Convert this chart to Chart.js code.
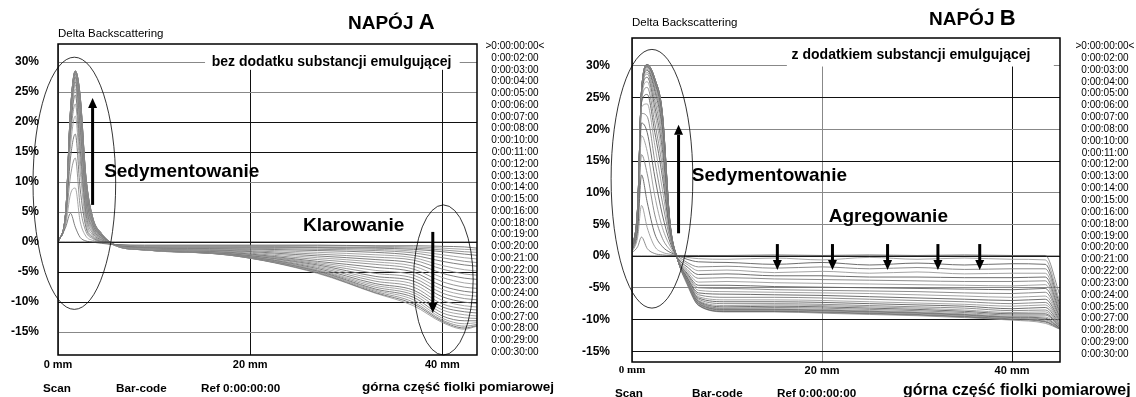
<!DOCTYPE html>
<html>
<head>
<meta charset="utf-8">
<script src="https://cdn.jsdelivr.net/npm/chart.js@4.4.1/dist/chart.umd.min.js"></script>
<style>
  body { margin:0; background:#fff; font-family:'Liberation Sans', Arial, sans-serif; }
  #wrap { position:relative; width:1136px; height:397px; overflow:hidden; }
  canvas { position:absolute; top:0; }
  .t { position:absolute; white-space:nowrap; color:#000; line-height:1; }
  .b { font-weight:bold; }
  .leg { position:absolute; font-size:10px; text-align:center; color:#000; white-space:nowrap; }
</style>
</head>
<body>
<div id="wrap">
  <canvas id="chartA" width="560" height="397" style="left:0"></canvas>
  <canvas id="chartB" width="576" height="397" style="left:560px"></canvas>
</div>
<script>
/* ===== Oś X / Y ===== */
const xTicks = [0, 20, 40];
const yTicks = [-15, -10, -5, 0, 5, 10, 15, 20, 25, 30];

/* ===== Legenda (czasy skanów) ===== */
const legendA = ['>0:00:00:00<','0:00:02:00','0:00:03:00','0:00:04:00','0:00:05:00','0:00:06:00','0:00:07:00',
  '0:00:08:00','0:00:10:00','0:00:11:00','0:00:12:00','0:00:13:00','0:00:14:00','0:00:15:00','0:00:16:00',
  '0:00:18:00','0:00:19:00','0:00:20:00','0:00:21:00','0:00:22:00','0:00:23:00','0:00:24:00','0:00:26:00',
  '0:00:27:00','0:00:28:00','0:00:29:00','0:00:30:00'];
const legendB = ['>0:00:00:00<','0:00:02:00','0:00:03:00','0:00:04:00','0:00:05:00','0:00:06:00','0:00:07:00',
  '0:00:08:00','0:00:10:00','0:00:11:00','0:00:12:00','0:00:13:00','0:00:14:00','0:00:15:00','0:00:16:00',
  '0:00:18:00','0:00:19:00','0:00:20:00','0:00:21:00','0:00:22:00','0:00:23:00','0:00:24:00','0:00:25:00',
  '0:00:27:00','0:00:28:00','0:00:29:00','0:00:30:00'];

/* ===== NAPÓJ A: pozycja w fiolce (mm) ===== */
const xA = [0, 0.8, 1.3, 1.8, 2.3, 2.9, 3.6, 4.5, 6, 9, 18, 27, 33, 37, 40, 42.3, 43.6];
// Delta BS (%) dla kolejnych skanów
const a00 = [0,0,0,0,0,0,0,0,0,0,0,0,0,0,0,0,0];
const a02 = [0, 2.5, 4.8, 2.5, 0.8, 0.2, 0, -0.2, -0.4, -0.5, -0.5, -0.5, -0.6, -0.6, -0.7, -0.8, -1.0];
const a03 = [0, 3, 8, 9, 3.5, 1, 0.3, -0.1, -0.4, -0.6, -0.6, -0.6, -0.7, -0.8, -1.0, -1.2, -1.3];
const a04 = [0, 3.5, 11, 14, 6, 1.8, 0.6, 0, -0.4, -0.7, -0.7, -0.8, -0.9, -1.0, -1.3, -1.6, -1.7];
const a05 = [0, 4, 14, 18, 9, 2.5, 0.8, 0.1, -0.5, -0.8, -0.8, -0.9, -1.0, -1.2, -1.6, -2.0, -2.2];
const a06 = [0, 4, 16, 21, 12, 3.2, 1.0, 0.2, -0.5, -0.8, -0.9, -1.0, -1.2, -1.5, -2.1, -2.6, -2.8];
const a07 = [0, 4.2, 17.5, 23, 14, 4, 1.2, 0.3, -0.5, -0.9, -1.0, -1.2, -1.4, -1.8, -2.6, -3.2, -3.4];
const a08 = [0, 4.3, 18.5, 24.5, 15.5, 4.8, 1.5, 0.4, -0.5, -0.9, -1.1, -1.4, -1.7, -2.2, -3.2, -3.8, -4];
const a10 = [0, 4.4, 19, 25.5, 17, 5.5, 1.8, 0.5, -0.5, -1.0, -1.2, -1.7, -2.1, -2.6, -3.9, -4.6, -4.8];
const a11 = [0, 4.5, 19.5, 26.2, 18, 6, 2, 0.6, -0.5, -1.0, -1.3, -2.0, -2.5, -3.0, -4.5, -5.3, -5.5];
const a12 = [0, 4.5, 20, 26.7, 19, 6.5, 2.3, 0.7, -0.5, -1.0, -1.4, -2.3, -2.9, -3.5, -5.2, -6.0, -6.2];
const a13 = [0, 4.6, 20.3, 27, 20, 7, 2.5, 0.8, -0.5, -1.1, -1.5, -2.6, -3.3, -4.0, -5.9, -6.8, -7];
const a14 = [0, 4.6, 20.6, 27.3, 20.7, 7.5, 2.7, 0.9, -0.5, -1.1, -1.6, -2.9, -3.7, -4.5, -6.6, -7.5, -7.7];
const a15 = [0, 4.7, 20.8, 27.5, 21.3, 8, 2.9, 1.0, -0.5, -1.1, -1.7, -3.2, -4.2, -5.0, -7.3, -8.2, -8.4];
const a16 = [0, 4.7, 21, 27.7, 21.8, 8.4, 3.1, 1.0, -0.5, -1.1, -1.8, -3.4, -4.7, -5.5, -7.9, -8.8, -9];
const a18 = [0, 4.8, 21.2, 27.9, 22.3, 8.8, 3.3, 1.1, -0.5, -1.2, -1.8, -3.6, -5.2, -6.0, -8.5, -9.4, -9.6];
const a19 = [0, 4.8, 21.3, 28, 22.7, 9.2, 3.4, 1.2, -0.5, -1.2, -1.9, -3.8, -5.7, -6.5, -9.1, -10.0, -10.2];
const a20 = [0, 4.8, 21.4, 28.1, 23.1, 9.5, 3.6, 1.2, -0.5, -1.2, -1.9, -4.0, -6.1, -7.0, -9.7, -10.6, -10.8];
const a21 = [0, 4.9, 21.5, 28.2, 23.4, 9.8, 3.7, 1.3, -0.5, -1.2, -2.0, -4.2, -6.5, -7.5, -10.3, -11.1, -11.3];
const a22 = [0, 4.9, 21.6, 28.3, 23.7, 10, 3.8, 1.3, -0.5, -1.2, -2.0, -4.4, -6.9, -8.0, -10.8, -11.6, -11.8];
const a23 = [0, 4.9, 21.7, 28.35, 23.9, 10.3, 3.9, 1.4, -0.5, -1.3, -2.0, -4.6, -7.2, -8.4, -11.3, -12.1, -12.3];
const a24 = [0, 5, 21.8, 28.4, 24.1, 10.5, 4.0, 1.4, -0.5, -1.3, -2.1, -4.7, -7.5, -8.8, -11.8, -12.6, -12.7];
const a26 = [0, 5, 21.85, 28.45, 24.2, 10.7, 4.0, 1.4, -0.5, -1.3, -2.1, -4.8, -7.8, -9.2, -12.3, -13.1, -13.1];
const a27 = [0, 5, 21.9, 28.5, 24.3, 10.8, 4.1, 1.5, -0.6, -1.3, -2.1, -4.9, -8.0, -9.6, -12.7, -13.6, -13.4];
const a28 = [0, 5, 21.95, 28.5, 24.4, 10.9, 4.1, 1.5, -0.6, -1.3, -2.2, -5.0, -8.2, -10.0, -13.0, -14.0, -13.7];
const a29 = [0, 5, 22, 28.5, 24.45, 11, 4.2, 1.5, -0.6, -1.3, -2.2, -5.1, -8.4, -10.3, -13.2, -14.3, -13.9];
const a30 = [0, 5, 22, 28.5, 24.5, 11, 4.2, 1.5, -0.6, -1.3, -2.2, -5.2, -8.5, -10.6, -13.4, -14.5, -14];

/* ===== NAPÓJ B ===== */
const xB = [0, 0.6, 1.0, 1.6, 2.4, 3.2, 4.0, 4.8, 5.8, 7, 10, 15, 20, 25, 30, 35, 40, 43.5, 45];
const b00 = [0,0,0,0,0,0,0,0,0,0,0,0,0,0,0,0,0,0,0];
const b02 = [0.5, 1.5, 3, 1.2, 0.4, 0.2, 0.1, 0.1, 0.1, 0.1, 0.1, 0.2, 0.1, 0.2, 0.1, 0.2, 0.1, 0.1, -6];
const b03 = [0.6, 3, 8, 4.5, 1.5, 0.6, 0.3, 0.1, -0.2, -0.4, -0.5, -0.3, -0.6, -0.2, -0.5, -0.3, -0.5, -0.6, -7];
const b04 = [0.7, 4, 12.8, 8.5, 3.5, 1.5, 0.6, 0.1, -0.5, -0.9, -1.0, -1.3, -1.0, -1.4, -1.1, -1.4, -1.2, -1.3, -7.5];
const b05 = [0.8, 5, 16, 13, 6.5, 2.8, 1.0, 0, -1.0, -1.7, -1.6, -1.9, -1.7, -2.0, -1.8, -2.1, -2.0, -2.0, -8];
const b06 = [0.8, 5.5, 19, 16.5, 9.5, 4.5, 1.6, -0.2, -1.3, -2.3, -2.2, -2.6, -2.4, -2.7, -2.5, -2.8, -2.7, -2.7, -8.3];
const b07 = [0.9, 6, 21, 19.5, 12.5, 6.5, 2.2, -0.3, -1.7, -2.9, -2.8, -3.1, -3.1, -3.3, -3.3, -3.4, -3.4, -3.3, -8.6];
const b08 = [0.9, 6.2, 22.5, 22, 15, 8.5, 2.8, -0.4, -2.1, -3.5, -3.4, -3.6, -3.7, -3.8, -3.9, -4.0, -4.0, -3.9, -8.9];
const b10 = [1, 6.4, 23.5, 24, 17.5, 10.5, 3.2, -0.5, -2.4, -4.1, -4.0, -4.2, -4.3, -4.4, -4.5, -4.6, -4.7, -4.5, -9.2];
const b11 = [1, 6.6, 24.2, 25.5, 19.5, 12.5, 3.6, -0.5, -2.7, -4.6, -4.6, -4.8, -4.9, -5.0, -5.1, -5.2, -5.3, -5.1, -9.4];
const b12 = [1, 6.8, 24.6, 26.6, 21, 14, 3.9, -0.5, -2.9, -5.0, -5.1, -5.3, -5.4, -5.5, -5.6, -5.8, -5.9, -5.7, -9.6];
const b13 = [1, 7, 25, 27.5, 22.5, 15.5, 4.1, -0.5, -3.1, -5.4, -5.6, -5.7, -5.8, -5.9, -6.1, -6.3, -6.5, -6.3, -9.8];
const b14 = [1, 7.2, 25.3, 28.2, 23.5, 16.8, 4.3, -0.5, -3.3, -5.8, -6.0, -6.1, -6.2, -6.4, -6.6, -6.8, -7.0, -6.8, -10];
const b15 = [1, 7.3, 25.5, 28.7, 24.5, 18, 4.5, -0.5, -3.4, -6.1, -6.5, -6.5, -6.6, -6.8, -7.0, -7.2, -7.5, -7.3, -10.2];
const b16 = [1, 7.4, 25.7, 29, 25.3, 19, 4.6, -0.5, -3.5, -6.4, -6.9, -6.9, -7.0, -7.2, -7.4, -7.6, -7.9, -7.7, -10.4];
const b18 = [1, 7.5, 25.8, 29.3, 26, 19.8, 4.7, -0.5, -3.6, -6.6, -7.2, -7.2, -7.3, -7.5, -7.7, -7.9, -8.3, -8.1, -10.6];
const b19 = [1, 7.6, 25.9, 29.5, 26.5, 20.4, 4.8, -0.5, -3.7, -6.8, -7.5, -7.5, -7.6, -7.8, -8.0, -8.2, -8.6, -8.5, -10.8];
const b20 = [1, 7.7, 26, 29.7, 27, 20.9, 4.9, -0.5, -3.8, -7.0, -7.8, -7.7, -7.8, -8.0, -8.2, -8.5, -8.9, -8.8, -10.9];
const b21 = [1, 7.8, 26, 29.8, 27.3, 21.3, 5, -0.5, -3.85, -7.1, -8.0, -7.9, -8.0, -8.2, -8.4, -8.7, -9.1, -9.1, -11.0];
const b22 = [1, 7.8, 26, 29.9, 27.5, 21.7, 5, -0.5, -3.9, -7.2, -8.2, -8.1, -8.2, -8.4, -8.6, -8.9, -9.3, -9.3, -11.1];
const b23 = [1, 7.9, 26, 30, 27.7, 22, 5.1, -0.5, -3.95, -7.3, -8.3, -8.3, -8.4, -8.6, -8.8, -9.1, -9.5, -9.6, -11.2];
const b24 = [1, 7.9, 26, 30, 27.8, 22.2, 5.1, -0.5, -4, -7.4, -8.4, -8.4, -8.5, -8.7, -8.9, -9.2, -9.6, -9.8, -11.3];
const b25 = [1, 8, 26, 30.1, 27.9, 22.3, 5.2, -0.5, -4, -7.5, -8.5, -8.5, -8.6, -8.8, -9.0, -9.3, -9.7, -10.0, -11.3];
const b27 = [1, 8, 26, 30.1, 28, 22.4, 5.2, -0.5, -4.1, -7.6, -8.6, -8.6, -8.7, -8.9, -9.1, -9.4, -9.8, -10.2, -11.4];
const b28 = [1, 8, 26, 30.2, 28, 22.5, 5.3, -0.5, -4.2, -7.7, -8.7, -8.7, -8.8, -9.0, -9.2, -9.5, -9.9, -10.3, -11.4];
const b29 = [1, 8, 26, 30.2, 28, 22.5, 5.3, -0.5, -4.3, -7.75, -8.75, -8.75, -8.9, -9.1, -9.3, -9.6, -10.0, -10.4, -11.5];
const b30 = [1, 8, 26, 30.2, 28, 22.5, 5.4, -0.5, -4.5, -7.8, -8.8, -8.8, -9.0, -9.2, -9.4, -9.7, -10.1, -10.6, -11.5];

const curvesA = [a00,a02,a03,a04,a05,a06,a07,a08,a10,a11,a12,a13,a14,a15,a16,a18,a19,a20,a21,a22,a23,a24,a26,a27,a28,a29,a30];
const curvesB = [b00,b02,b03,b04,b05,b06,b07,b08,b10,b11,b12,b13,b14,b15,b16,b18,b19,b20,b21,b22,b23,b24,b25,b27,b28,b29,b30];

/* ===== Adnotacje (w jednostkach danych: mm, %) ===== */
const ellipsesA = [[1.7, 9.8, 4.3, 21], [40.1, -6.3, 3.1, 12.5]];
const arrowsA   = [[3.6, 6.2, 3.6, 24], [39, 1.7, 39, -11.8]];
const labelsA   = [['Sedymentowanie', 4.8, 11.7], ['Klarowanie', 25.5, 2.8]];
const ellipsesB = [[2.1, 12.2, 4.3, 20.4]];
const arrowsB   = [[4.9, 3.6, 4.9, 20.7], [15.3, 1.9, 15.3, -2.2], [21.1, 1.9, 21.1, -2.2],
                   [26.9, 1.9, 26.9, -2.2], [32.2, 1.9, 32.2, -2.2], [36.6, 1.9, 36.6, -2.2]];
const labelsB   = [['Sedymentowanie', 6.3, 12.6], ['Agregowanie', 20.7, 6.2]];

const FONT = "'Liberation Sans', Arial, sans-serif";

function arrow(ctx, x1, y1, x2, y2){
  const ang = Math.atan2(y2 - y1, x2 - x1);
  const hl = 10, hw = 4.5;
  const bx = x2 - hl * Math.cos(ang), by = y2 - hl * Math.sin(ang);
  ctx.beginPath(); ctx.lineWidth = 3; ctx.strokeStyle = '#000';
  ctx.moveTo(x1, y1); ctx.lineTo(bx, by); ctx.stroke();
  ctx.beginPath(); ctx.fillStyle = '#000';
  ctx.moveTo(x2, y2);
  ctx.lineTo(bx + hw * Math.sin(ang), by - hw * Math.cos(ang));
  ctx.lineTo(bx - hw * Math.sin(ang), by + hw * Math.cos(ang));
  ctx.closePath(); ctx.fill();
}

function decoPlugin(cfg){
  return {
    id: 'deco_' + cfg.id,
    beforeDatasetsDraw(chart){
      const {ctx, scales:{x, y}} = chart;
      const n = cfg.note;
      ctx.save();
      const l = x.getPixelForValue(n.box[0]), r = x.getPixelForValue(n.box[1]);
      const t = y.getPixelForValue(n.box[2]), b = y.getPixelForValue(n.box[3]);
      ctx.fillStyle = '#fff'; ctx.fillRect(l, t, r - l, b - t);
      ctx.fillStyle = '#000'; ctx.font = `bold ${n.size}px ${FONT}`;
      ctx.textBaseline = 'middle'; ctx.textAlign = 'left';
      ctx.fillText(n.text, x.getPixelForValue(n.x), y.getPixelForValue(n.y));
      ctx.restore();
    },
    afterDatasetsDraw(chart){
      const {ctx, scales:{x, y}} = chart;
      ctx.save();
      ctx.strokeStyle = '#000'; ctx.lineWidth = 0.8;
      cfg.ellipses.forEach(([cx, cy, rx, ry]) => {
        const px = x.getPixelForValue(cx), py = y.getPixelForValue(cy);
        const prx = x.getPixelForValue(cx + rx) - px, pry = py - y.getPixelForValue(cy + ry);
        ctx.beginPath(); ctx.ellipse(px, py, prx, pry, 0, 0, Math.PI * 2); ctx.stroke();
      });
      cfg.arrows.forEach(([x1, y1, x2, y2]) =>
        arrow(ctx, x.getPixelForValue(x1), y.getPixelForValue(y1), x.getPixelForValue(x2), y.getPixelForValue(y2)));
      ctx.fillStyle = '#000'; ctx.font = `bold 19px ${FONT}`;
      ctx.textBaseline = 'middle'; ctx.textAlign = 'left';
      cfg.labels.forEach(([txt, lx, ly]) => ctx.fillText(txt, x.getPixelForValue(lx), y.getPixelForValue(ly)));
      ctx.restore();
    },
    afterDraw(chart){
      const {ctx, chartArea:a} = chart;
      ctx.save(); ctx.strokeStyle = '#000'; ctx.lineWidth = 1.5;
      ctx.strokeRect(a.left, a.top, a.right - a.left, a.bottom - a.top);
      ctx.restore();
    }
  };
}

function buildPanel(cfg){
  const datasets = cfg.curves.map((row, i) => ({
    label: cfg.legend[i],
    data: cfg.xs.map((xv, j) => ({ x: xv, y: row[j] })),
    borderColor: i === 0 ? '#222' : cfg.shades[i % cfg.shades.length],
    borderWidth: i === 0 ? 1 : 0.9,
    pointRadius: 0,
    cubicInterpolationMode: 'monotone',
    fill: false
  }));
  return new Chart(document.getElementById(cfg.id), {
    type: 'line',
    data: { datasets },
    options: {
      responsive: false, animation: false,
      layout: { padding: cfg.pad },
      plugins: { legend: { display: false }, tooltip: { enabled: false } },
      scales: {
        x: {
          type: 'linear', min: cfg.xMin, max: cfg.xMax,
          afterBuildTicks: s => { s.ticks = xTicks.map(v => ({ value: v })); },
          afterFit: s => { s.height = 20; },
          border: { display: false },
          grid: { drawTicks: false, lineWidth: 1, color: c => cfg.darkX.includes(c.tick.value) ? '#111' : '#888' },
          ticks: {
            padding: cfg.xPad, color: '#000', maxRotation: 0, autoSkip: false,
            font: c => (cfg.serifZero && c.index === 0)
              ? { family: "'Liberation Serif', serif", weight: 'bold', size: 11 }
              : { family: FONT, weight: 'bold', size: 11 },
            callback: v => v + ' mm'
          }
        },
        y: {
          min: cfg.yMin, max: cfg.yMax,
          afterBuildTicks: s => { s.ticks = yTicks.map(v => ({ value: v })); },
          afterFit: s => { s.width = cfg.yWidth; },
          border: { display: false },
          grid: { drawTicks: false, lineWidth: 1, color: c => cfg.darkY.includes(c.tick.value) ? '#111' : '#888' },
          ticks: { padding: cfg.yPad, color: '#000', font: { family: FONT, weight: 'bold', size: 12 }, callback: v => v + '%' }
        }
      }
    },
    plugins: [decoPlugin(cfg)]
  });
}

buildPanel({
  id: 'chartA', xs: xA, curves: curvesA, legend: legendA,
  shades: ['#8a8a8a', '#6f6f6f', '#9d9d9d'],
  xMin: 0, xMax: 43.6, yMin: -18.8, yMax: 33,
  pad: { top: 44, bottom: 22, left: 0, right: 83 },
  yWidth: 58, yPad: 19, xPad: 3,
  darkX: [20, 40], darkY: [20, 15, 0, -5, -10],
  ellipses: ellipsesA, arrows: arrowsA, labels: labelsA,
  note: { text: 'bez dodatku substancji emulgującej', size: 14, x: 16, y: 30, box: [15.3, 41.8, 33, 28.7] }
});

buildPanel({
  id: 'chartB', xs: xB, curves: curvesB, legend: legendB,
  shades: ['#5e5e5e', '#808080', '#9a9a9a'],
  xMin: 0, xMax: 45.05, yMin: -16.7, yMax: 34.4,
  pad: { top: 38, bottom: 15, left: 0, right: 76 },
  yWidth: 72, yPad: 22, xPad: 2, serifZero: true,
  darkX: [40], darkY: [25, 15, 0, -10, -15],
  ellipses: ellipsesB, arrows: arrowsB, labels: labelsB,
  note: { text: 'z dodatkiem substancji emulgującej', size: 14, x: 16.8, y: 31.75, box: [16.3, 44.4, 34.4, 29.9] }
});

/* ===== Teksty poza wykresem ===== */
const wrap = document.getElementById('wrap');
function put(html, left, cy, size, bold){
  const el = document.createElement('div');
  el.className = 't' + (bold ? ' b' : '');
  el.style.left = left + 'px';
  el.style.top = (cy - size * 0.55) + 'px';
  el.style.fontSize = size + 'px';
  el.innerHTML = html;
  wrap.appendChild(el);
}
function legendList(items, left, top, lh){
  const el = document.createElement('div');
  el.className = 'leg';
  el.style.left = left + 'px'; el.style.top = top + 'px';
  el.style.width = '66px'; el.style.lineHeight = lh + 'px';
  el.innerHTML = items.join('<br>');
  wrap.appendChild(el);
}

put('Delta Backscattering', 58, 34, 11.5, false);
put('NAPÓJ <span style="font-size:22px">A</span>', 348, 21, 19, true);
put('Scan', 43, 388, 11.7, true);
put('Bar-code', 116, 388, 11.7, true);
put('Ref 0:00:00:00', 201, 388, 11.7, true);
put('górna część fiolki pomiarowej', 362, 387, 13.5, true);
legendList(legendA, 482, 40.1, 11.77);

put('Delta Backscattering', 632, 23, 11.5, false);
put('NAPÓJ <span style="font-size:22px">B</span>', 929, 17, 19, true);
put('Scan', 615, 393, 11.7, true);
put('Bar-code', 692, 393, 11.7, true);
put('Ref 0:00:00:00', 777, 393, 11.7, true);
put('górna część fiolki pomiarowej', 903, 391, 16, true);
legendList(legendB, 1072, 40, 11.85);
</script>
</body>
</html>
